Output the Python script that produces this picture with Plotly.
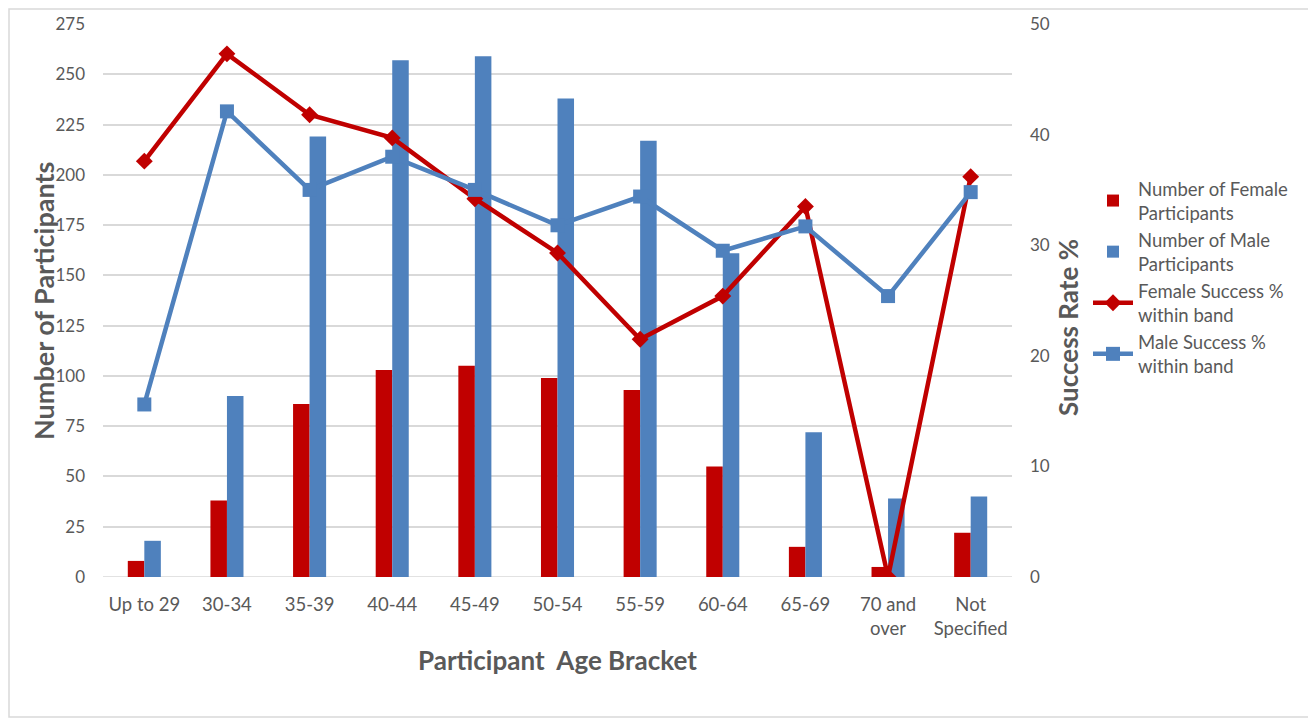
import plotly.graph_objects as go

categories = ["Up to 29", "30-34", "35-39", "40-44", "45-49", "50-54", "55-59",
              "60-64", "65-69", "70 and<br>over", "Not<br>Specified"]
female_count = [8, 38, 86, 103, 105, 99, 93, 55, 15, 5, 22]
male_count = [18, 90, 219, 257, 259, 238, 217, 161, 72, 39, 40]
female_rate = [37.6, 47.3, 41.8, 39.7, 34.2, 29.3, 21.5, 25.4, 33.5, 0, 36.2]
male_rate = [15.6, 42.1, 35.0, 38.0, 35.0, 31.8, 34.4, 29.5, 31.7, 25.4, 34.8]

RED = "#C00000"
BLUE = "#4F81BD"
GREY = "#595959"
FONT = "Lato"

fig = go.Figure()
fig.add_trace(go.Bar(x=categories, y=female_count, name="Number of Female<br>Participants",
                     marker=dict(color=RED, line=dict(width=0))))
fig.add_trace(go.Bar(x=categories, y=male_count, name="Number of Male<br>Participants",
                     marker=dict(color=BLUE, line=dict(width=0))))
fig.add_trace(go.Scatter(x=categories, y=female_rate, name="Female Success %<br>within band",
                         yaxis="y2", mode="lines+markers",
                         line=dict(color=RED, width=4.5),
                         marker=dict(symbol="diamond", size=13, color=RED)))
fig.add_trace(go.Scatter(x=categories, y=male_rate, name="Male Success %<br>within band",
                         yaxis="y2", mode="lines+markers",
                         line=dict(color=BLUE, width=4.5),
                         marker=dict(symbol="square", size=14, color=BLUE)))

# page body has an 8px margin, so the figure is sized/offset to compensate
W, H = 1308, 710
L, T = 95, 16
R, B = W - 1004, H - 569
pw, ph = W - L - R, H - T - B
PL, PT = L + 8, T + 8  # plot-area origin in page pixels


def px(x):
    return (x - PL) / pw


def py(y):
    return (PT + ph - y) / ph


fig.update_layout(
    width=W, height=H,
    margin=dict(l=L, r=R, t=T, b=B, autoexpand=False),
    paper_bgcolor="white", plot_bgcolor="white",
    font=dict(family=FONT, color=GREY, size=17),
    barmode="group", bargap=0.6, bargroupgap=0,
    showlegend=True,
    legend=dict(x=px(1088), y=py(170), xanchor="left", yanchor="top",
                font=dict(size=18.5, color=GREY), tracegroupgap=0,
                itemwidth=40, bgcolor="rgba(0,0,0,0)"),
    xaxis=dict(range=[-0.5, len(categories) - 0.5], showgrid=False, showline=False,
               ticks="", automargin=False,
               tickfont=dict(size=18.5, color=GREY), ticklabelstandoff=14),
    yaxis=dict(range=[0, 275], dtick=25, tick0=0, showgrid=True, gridcolor="#D9D9D9",
               gridwidth=1.5, zeroline=False, showline=False, ticks="", automargin=False,
               tickfont=dict(size=17, color=GREY), ticklabelstandoff=17),
    yaxis2=dict(range=[0, 50], dtick=10, tick0=0, overlaying="y", side="right",
                showgrid=False, zeroline=False, showline=False, ticks="", automargin=False,
                tickfont=dict(size=17, color=GREY), ticklabelstandoff=17),
    annotations=[
        dict(text="<b>Number of Participants</b>", xref="paper", yref="paper",
             x=px(43), y=py(301), textangle=-90, showarrow=False,
             xanchor="center", yanchor="middle", font=dict(size=27, color=GREY)),
        dict(text="<b>Success Rate %</b>", xref="paper", yref="paper",
             x=px(1068), y=py(328), textangle=-90, showarrow=False,
             xanchor="center", yanchor="middle", font=dict(size=26, color=GREY)),
        dict(text="<b>Participant  Age Bracket</b>", xref="paper", yref="paper",
             x=px(557), y=py(660), showarrow=False,
             xanchor="center", yanchor="middle", font=dict(size=26, color=GREY)),
    ],
    shapes=[dict(type="rect", xref="paper", yref="paper",
                 x0=(1 - L) / pw, x1=(W - 1 - L) / pw,
                 y0=-(B - 1) / ph, y1=(ph + T - 1) / ph,
                 line=dict(color="#D9D9D9", width=1.5), fillcolor="rgba(0,0,0,0)",
                 layer="below")],
)
fig.add_hline(y=0, line=dict(color="#D9D9D9", width=1.5), layer="below")

fig.write_html("out.html")
